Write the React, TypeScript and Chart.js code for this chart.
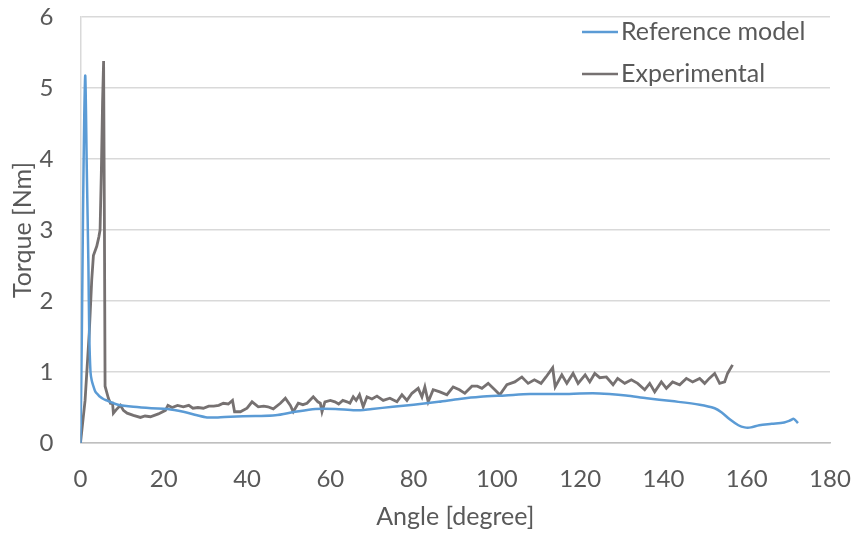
import React, { useEffect, useRef } from "react";
import { Chart, registerables } from "chart.js";

Chart.register(...registerables);

const xTicks = [0, 20, 40, 60, 80, 100, 120, 140, 160, 180];
const yTicks = [0, 1, 2, 3, 4, 5, 6];

const seriesNames = ["Reference model", "Experimental"];

const refAngle = [0, 0.3, 0.6, 0.9, 1.15, 1.5, 1.9, 2.1, 2.4, 2.7, 3.1, 3.6, 4.2, 4.7, 5.5, 6.3, 7.1, 9, 12.7, 17, 20.9, 24.7, 28, 30.4, 33, 36, 42, 46.8, 51.6, 56.4, 61.2, 66, 70, 75, 80, 86, 91, 96, 102, 108, 115, 123, 127, 131, 136, 142, 148.7, 152.3, 154, 156, 158, 159.5, 161, 163, 166, 169, 170.5, 171.3, 172, 172.3];
const refTorque = [0, 1.4, 3.2, 4.6, 5.17, 3.9, 2.5, 1.55, 1.0, 0.88, 0.8, 0.72, 0.68, 0.65, 0.62, 0.6, 0.58, 0.54, 0.51, 0.49, 0.48, 0.44, 0.39, 0.36, 0.36, 0.37, 0.38, 0.39, 0.44, 0.48, 0.48, 0.46, 0.48, 0.51, 0.54, 0.58, 0.62, 0.65, 0.67, 0.69, 0.69, 0.7, 0.69, 0.67, 0.63, 0.59, 0.54, 0.49, 0.43, 0.33, 0.25, 0.22, 0.22, 0.25, 0.27, 0.29, 0.32, 0.34, 0.3, 0.28];

const expAngle = [0, 1.1, 2.1, 2.7, 3.1, 3.9, 4.4, 4.7, 5.0, 5.3, 5.55, 5.75, 5.9, 6.7, 7.2, 7.7, 7.9, 8.6, 9.6, 10.3, 11.2, 12.7, 14.4, 15.5, 16.8, 18.7, 20.4, 21, 22, 23.3, 24.7, 26, 27, 28.2, 29.5, 30.8, 32, 33.2, 34.3, 35.5, 36.5, 37, 38.4, 40, 41.2, 42.7, 44, 45, 46.3, 48, 49.2, 50.4, 51.1, 52.3, 53.4, 54.4, 55.9, 57, 57.6, 58, 58.7, 60, 61.1, 62, 63, 64, 64.7, 65.5, 66.2, 67, 67.9, 68.8, 70, 71.2, 72.7, 74.3, 76, 77.2, 78.4, 79.6, 81.1, 82, 82.7, 83.5, 84.7, 86.3, 88, 89.5, 91, 92.3, 94, 95.3, 96.4, 97.9, 99.5, 100.7, 102.4, 104.3, 106, 107.5, 109, 110.6, 111.8, 113.4, 114, 115.6, 116.8, 118.3, 119.5, 121.2, 122.3, 123.5, 124.7, 126.3, 127.9, 129, 130.7, 132.3, 133.8, 135.5, 136.7, 137.9, 139.5, 140.7, 142.2, 143.9, 145.5, 147, 148.7, 149.9, 151, 152.3, 153.5, 154.7, 155.4, 156.6];
const expTorque = [0, 0.6, 1.55, 2.3, 2.64, 2.77, 2.9, 3.0, 3.8, 4.8, 5.38, 3.0, 0.8, 0.63, 0.56, 0.56, 0.42, 0.47, 0.53, 0.46, 0.42, 0.39, 0.36, 0.38, 0.37, 0.41, 0.46, 0.53, 0.5, 0.53, 0.51, 0.53, 0.49, 0.5, 0.49, 0.52, 0.52, 0.53, 0.56, 0.55, 0.6, 0.44, 0.44, 0.49, 0.58, 0.51, 0.52, 0.51, 0.48, 0.56, 0.63, 0.53, 0.44, 0.56, 0.54, 0.56, 0.65, 0.58, 0.56, 0.44, 0.58, 0.6, 0.58, 0.55, 0.6, 0.58, 0.56, 0.65, 0.6, 0.68, 0.51, 0.65, 0.62, 0.66, 0.6, 0.63, 0.58, 0.68, 0.6, 0.7, 0.77, 0.65, 0.79, 0.58, 0.75, 0.72, 0.68, 0.79, 0.75, 0.7, 0.8, 0.8, 0.77, 0.84, 0.75, 0.68, 0.82, 0.86, 0.93, 0.84, 0.89, 0.84, 0.93, 1.06, 0.79, 0.96, 0.84, 0.98, 0.84, 0.96, 0.86, 0.98, 0.92, 0.93, 0.82, 0.91, 0.84, 0.89, 0.84, 0.75, 0.84, 0.72, 0.86, 0.77, 0.86, 0.82, 0.91, 0.86, 0.91, 0.84, 0.91, 0.98, 0.84, 0.86, 0.98, 1.1];

const FONT = "Lato, 'Open Sans', sans-serif";
const TEXT = "#595959";
const COLORS = ["#5B9BD5", "#767171"];

const legendPlugin = {
  id: "customLegend",
  afterDraw(chart: any) {
    const ctx = chart.ctx;
    ctx.save();
    ctx.font = `25px ${FONT}`;
    ctx.textBaseline = "middle";
    ctx.textAlign = "left";
    const x0 = 582;
    const ys = [32, 74];
    chart.data.datasets.forEach((ds: any, i: number) => {
      ctx.strokeStyle = ds.borderColor;
      ctx.lineWidth = 2.5;
      ctx.beginPath();
      ctx.moveTo(x0, ys[i]);
      ctx.lineTo(x0 + 36, ys[i]);
      ctx.stroke();
      ctx.fillStyle = TEXT;
      ctx.fillText(ds.label, x0 + 39, ys[i]);
    });
    ctx.restore();
  },
};

export default function App() {
  const ref = useRef<HTMLCanvasElement>(null);
  useEffect(() => {
    document.body.style.margin = "0";
    const toPts = (xs: number[], ys: number[]) => xs.map((x, i) => ({ x, y: ys[i] }));
    const chart = new Chart(ref.current!, {
      type: "scatter",
      data: {
        datasets: [
          {
            label: seriesNames[0],
            data: toPts(refAngle, refTorque),
            borderColor: COLORS[0],
            backgroundColor: COLORS[0],
            showLine: true,
            pointRadius: 0,
            borderWidth: 2.5,
            tension: 0.3,
          },
          {
            label: seriesNames[1],
            data: toPts(expAngle, expTorque),
            borderColor: COLORS[1],
            backgroundColor: COLORS[1],
            showLine: true,
            pointRadius: 0,
            borderWidth: 2.8,
            tension: 0,
          },
        ],
      },
      options: {
        animation: false,
        responsive: false,
        maintainAspectRatio: false,
        layout: { padding: { top: 17, right: 23, left: 0, bottom: 0 } },
        plugins: { legend: { display: false }, tooltip: { enabled: false } },
        scales: {
          x: {
            type: "linear",
            min: 0,
            max: 180,
            afterBuildTicks: (axis: any) => {
              axis.ticks = xTicks.map((v) => ({ value: v }));
            },
            afterFit: (axis: any) => {
              axis.height = 91;
              axis.paddingLeft = 0;
              axis.paddingRight = 0;
            },
            grid: { display: false, drawTicks: false },
            border: { display: true, color: "#BFBFBF", width: 1.5 },
            ticks: { color: TEXT, font: { family: FONT, size: 24 }, padding: 22, maxRotation: 0 },
            title: {
              display: true,
              text: "Angle [degree]",
              color: TEXT,
              font: { family: FONT, size: 25 },
              padding: { top: 0, bottom: 2 },
            },
          },
          y: {
            type: "linear",
            min: 0,
            max: 6,
            afterBuildTicks: (axis: any) => {
              axis.ticks = yTicks.map((v) => ({ value: v }));
            },
            afterFit: (axis: any) => {
              axis.width = 80.5;
              axis.paddingTop = 0;
              axis.paddingBottom = 0;
            },
            grid: { color: "#D9D9D9", lineWidth: 1.5, drawTicks: false },
            border: { display: true, color: "#D9D9D9", width: 1.5 },
            ticks: { color: TEXT, font: { family: FONT, size: 24 }, padding: 27 },
            title: {
              display: true,
              text: "Torque [Nm]",
              color: TEXT,
              font: { family: FONT, size: 25 },
              padding: { top: 8, bottom: 0 },
            },
          },
        },
      },
      plugins: [legendPlugin],
    });
    return () => chart.destroy();
  }, []);
  return (
    <div style={{ width: 853, height: 534 }}>
      <canvas ref={ref} width={853} height={534} style={{ display: "block" }} />
    </div>
  );
}
